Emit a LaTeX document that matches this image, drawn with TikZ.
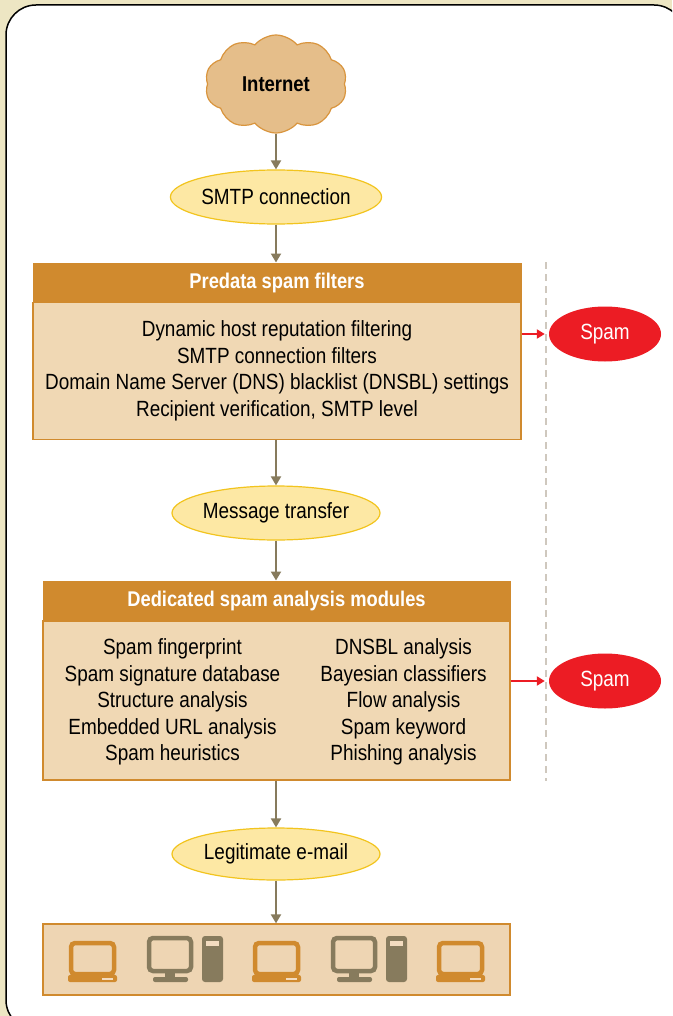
\documentclass[tikz,border=0pt]{standalone}
\usepackage{fontspec}
\setmainfont[FakeStretch=0.86]{Liberation Sans}
\usetikzlibrary{shapes.geometric,shapes.symbols,arrows.meta}
\definecolor{bgc}{HTML}{EDE6C3}
\definecolor{orng}{HTML}{D08A2E}
\definecolor{bodyc}{HTML}{F0D8B4}
\definecolor{cloudc}{HTML}{E5BE8A}
\definecolor{cloudb}{HTML}{D9953E}
\definecolor{ovalf}{HTML}{FDE8A4}
\definecolor{ovalb}{HTML}{F2C41E}
\definecolor{redc}{HTML}{EC1C24}
\definecolor{arrc}{HTML}{877B5D}
\definecolor{dashc}{HTML}{CFC8BE}
\definecolor{devc}{HTML}{EED5B3}
\definecolor{slotc}{HTML}{F3DCC0}
\begin{document}
\begin{tikzpicture}[x=1pt,y=-1pt,
  txt/.style={font=\fontsize{22}{26.6}\selectfont},
  oval/.style={ellipse,draw=ovalb,fill=ovalf,line width=1.2pt,minimum width=208pt,minimum height=54pt,inner sep=0pt,txt},
  spamoval/.style={ellipse,fill=redc,minimum width=112pt,minimum height=55pt,inner sep=0pt,text=white,txt},
  hdr/.style={rectangle,fill=orng,draw=orng,line width=1pt,inner sep=0pt,text=white,font=\fontsize{21.3}{24}\selectfont\bfseries},
  bodybox/.style={rectangle,fill=bodyc,draw=orng,line width=1.3pt,inner sep=0pt},
  conn/.style={draw=arrc,line width=2pt,-{Triangle[length=9pt,width=10pt]}},
  redarr/.style={draw=redc,line width=2pt,-{Triangle[length=8pt,width=9pt]},shorten >=4pt},
  blk/.style={align=center,inner sep=0pt,txt},
  pics/laptop/.style={code={
    \draw[orng,line width=4.5pt,rounded corners=4pt] (3,2) rectangle (46,33);
    \fill[orng,rounded corners=2pt] (0,34) rectangle (49,41);
    \fill[slotc] (34,36.6) rectangle (45,38.6);
  }},
  pics/desktop/.style={code={
    \draw[arrc,line width=4.5pt,rounded corners=4pt] (2,2) rectangle (44,35);
    \fill[arrc] (18,36) rectangle (28,42);
    \fill[arrc,rounded corners=2pt] (6,41) rectangle (41,46);
    \fill[arrc,rounded corners=3pt] (55,0) rectangle (76,46);
    \fill[slotc] (59,5) rectangle (72,10);
  }}
]
\useasboundingbox (0,0) rectangle (672,1016);
\fill[bgc] (0,0) rectangle (672,1016);
\begin{scope}
\clip (0,0) rectangle (672,1016);
\draw[fill=white,line width=1.5pt,rounded corners=30pt] (6,5) rectangle (684,1030);
\end{scope}

% cloud
\node[cloud,cloud puffs=10,cloud puff arc=100,aspect=1.45,draw=cloudb,fill=cloudc,line width=1.2pt,
  minimum width=142pt,minimum height=98pt,inner sep=0pt,font=\fontsize{21.5}{26}\selectfont\bfseries] (inet) at (276,84) {Internet};

\node[oval] (smtp) at (276,197) {SMTP connection};

% predata box
\node[hdr,minimum width=488pt,minimum height=39pt] (h1) at (277,282.5) {Predata spam filters};
\node[bodybox,minimum width=488pt,minimum height=137pt] (b1) at (277,371) {};
\node[blk] (t1) at (277,371) {Dynamic host reputation filtering\\SMTP connection filters\\Domain Name Server (DNS) blacklist (DNSBL) settings\\Recipient verification, SMTP level};

\node[oval] (mt) at (276,513) {Message transfer};

% dedicated box
\node[hdr,minimum width=467pt,minimum height=40pt] (h2) at (276.5,601) {Dedicated spam analysis modules};
\node[bodybox,minimum width=467pt,minimum height=159pt] (b2) at (276.5,700.5) {};
\node[blk] (c1) at (172.5,702) {Spam fingerprint\\Spam signature database\\Structure analysis\\Embedded URL analysis\\Spam heuristics};
\node[blk] (c2) at (403.5,702) {DNSBL analysis\\Bayesian classifiers\\Flow analysis\\Spam keyword\\Phishing analysis};

\node[oval,minimum height=52pt] (le) at (276,854) {Legitimate e-mail};

% devices
\node[bodybox,fill=devc,minimum width=467pt,minimum height=71pt] (dev) at (276.5,959.5) {};
\pic at (68,941) {laptop};
\pic at (147,936) {desktop};
\pic at (252,941) {laptop};
\pic at (331,936) {desktop};
\pic at (436,941) {laptop};

% spam
\node[spamoval] (s1) at (605,334) {Spam};
\node[spamoval] (s2) at (605,681) {Spam};

% dashed separator
\coordinate (d1) at (546,262);
\coordinate (d2) at (546,781);
\draw[dashc,line width=1.2pt,dash pattern=on 7pt off 5pt] (d1) -- (d2);

% connectors
\draw[conn] (inet.south) -- (smtp.north);
\draw[conn] (smtp.south) -- (smtp.south |- h1.north);
\draw[conn] (mt.north |- b1.south) -- (mt.north);
\draw[conn] (mt.south) -- (mt.south |- h2.north);
\draw[conn] (le.north |- b2.south) -- (le.north);
\draw[conn] (le.south) -- (le.south |- dev.north);
\draw[redarr] (b1.east |- s1.west) -- (s1.west);
\draw[redarr] (b2.east |- s2.west) -- (s2.west);
\end{tikzpicture}
\end{document}
